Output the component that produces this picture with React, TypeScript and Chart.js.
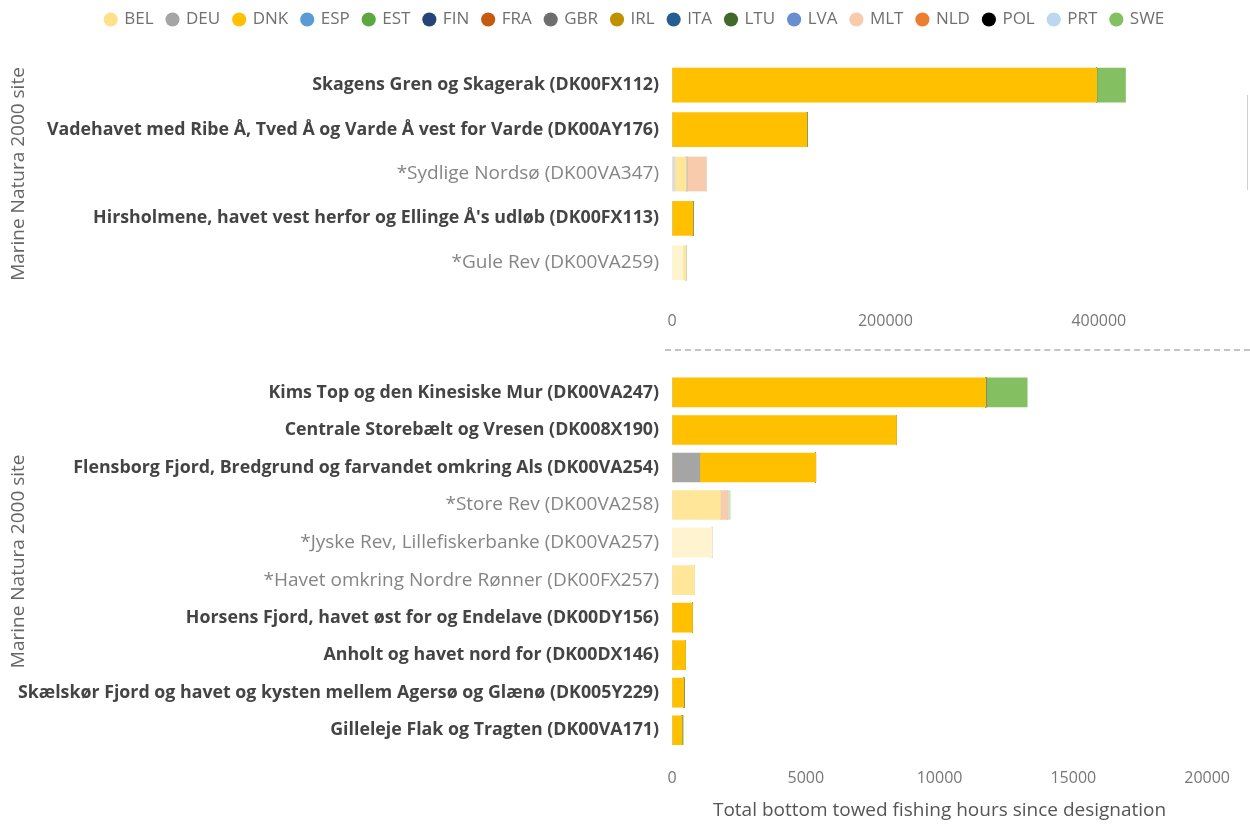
import React, { useEffect, useRef } from 'react';
import { Chart, registerables } from 'chart.js';
Chart.register(...registerables);

const FONT = "'Open Sans', 'Noto Sans', sans-serif";

const countries = ['BEL', 'DEU', 'DNK', 'ESP', 'EST', 'FIN', 'FRA', 'GBR', 'IRL', 'ITA', 'LTU', 'LVA', 'MLT', 'NLD', 'POL', 'PRT', 'SWE'];
const countryColors = ['#FFE08A', '#A5A5A5', '#FFC000', '#5B9BD5', '#5CA83E', '#264478', '#C55A11', '#6E6E6E', '#BF9000', '#255E91', '#43682B', '#698ED0', '#F8CBAD', '#ED7D31', '#000000', '#BDD7EE', '#84BF62'];

const topSites = [
  'Skagens Gren og Skagerak (DK00FX112)',
  'Vadehavet med Ribe Å, Tved Å og Varde Å vest for Varde (DK00AY176)',
  '*Sydlige Nordsø (DK00VA347)',
  "Hirsholmene, havet vest herfor og Ellinge Å's udløb (DK00FX113)",
  '*Gule Rev (DK00VA259)',
];
const topBEL = [0, 0, 0, 0, 10300];
const topDEU = [0, 0, 2800, 0, 0];
const topDNK = [398000, 126500, 10300, 19700, 2800];
const topFRA = [0, 0, 900, 0, 0];
const topNLD = [0, 0, 17800, 0, 0];
const topSWE = [27000, 0, 0, 0, 0];
const topTicks = [0, 200000, 400000];
const topMax = 507000;

const bottomSites = [
  'Kims Top og den Kinesiske Mur (DK00VA247)',
  'Centrale Storebælt og Vresen (DK008X190)',
  'Flensborg Fjord, Bredgrund og farvandet omkring Als (DK00VA254)',
  '*Store Rev (DK00VA258)',
  '*Jyske Rev, Lillefiskerbanke (DK00VA257)',
  '*Havet omkring Nordre Rønner (DK00FX257)',
  'Horsens Fjord, havet øst for og Endelave (DK00DY156)',
  'Anholt og havet nord for (DK00DX146)',
  'Skælskør Fjord og havet og kysten mellem Agersø og Glænø (DK005Y229)',
  'Gilleleje Flak og Tragten (DK00VA171)',
];
const bottomBEL = [0, 0, 0, 0, 1500, 0, 0, 0, 0, 0];
const bottomDEU = [0, 0, 1040, 0, 0, 0, 0, 0, 0, 0];
const bottomDNK = [11730, 8390, 4330, 1810, 0, 840, 765, 505, 445, 380];
const bottomNLD = [0, 0, 0, 270, 0, 0, 0, 0, 0, 0];
const bottomSWE = [1545, 0, 0, 100, 0, 0, 0, 0, 0, 40];
const bottomTicks = [0, 5000, 10000, 15000, 20000];
const bottomMax = 20000;

const yTitle = 'Marine Natura 2000 site';
const xTitle = 'Total bottom towed fishing hours since designation';

function fade(hex: string, a = 0.4) {
  const n = parseInt(hex.slice(1), 16);
  const r = (n >> 16) & 255, g = (n >> 8) & 255, b = n & 255;
  const m = (c: number) => Math.round(255 - (255 - c) * a);
  return `rgb(${m(r)},${m(g)},${m(b)})`;
}

function buildDatasets(labels: string[], values: Record<string, number[]>, thickness: number) {
  return countries.map((c, i) => ({
    label: c,
    data: values[c] ?? labels.map(() => 0),
    backgroundColor: labels.map((l) => (l.startsWith('*') ? fade(countryColors[i]) : countryColors[i])),
    borderWidth: 0,
    barThickness: thickness,
  }));
}

type Cfg = {
  labels: string[];
  values: Record<string, number[]>;
  thickness: number;
  max: number;
  ticks: number[];
  showLegend: boolean;
  legendHeight: number;
  padTop: number;
  xHeight: number;
  xTickPad: number;
  showXTitle: boolean;
};

function makeChart(canvas: HTMLCanvasElement, cfg: Cfg) {
  const legendPlugin = {
    id: 'legendFix',
    afterInit(chart: any) {
      const lg = chart.legend;
      if (!lg) return;
      const fit = lg.fit;
      lg.fit = function () {
        fit.call(this);
        this.height = cfg.legendHeight;
      };
    },
    afterLayout(chart: any) {
      const lg = chart.legend;
      if (!lg || !cfg.showLegend) return;
      lg.left = 0;
      lg.right = 1270;
      lg.width = 1270;
      lg.top = -3;
      lg.bottom = lg.top + lg.height;
    },
  };
  return new Chart(canvas, {
    type: 'bar',
    data: { labels: cfg.labels, datasets: buildDatasets(cfg.labels, cfg.values, cfg.thickness) as any },
    plugins: [legendPlugin],
    options: {
      indexAxis: 'y',
      animation: false,
      responsive: false,
      maintainAspectRatio: false,
      layout: { padding: { top: cfg.padTop, right: 37, left: 0, bottom: 0 } },
      plugins: {
        tooltip: { enabled: false },
        legend: {
          display: cfg.showLegend,
          position: 'top',
          labels: {
            usePointStyle: true,
            pointStyle: 'circle',
            boxWidth: 10,
            boxHeight: 10,
            padding: 14,
            color: '#707070',
            font: { family: FONT, size: 17 },
          },
        },
      },
      scales: {
        x: {
          stacked: true,
          min: 0,
          max: cfg.max,
          grid: { display: false, drawTicks: false },
          border: { display: false },
          afterBuildTicks: (scale: any) => {
            scale.ticks = cfg.ticks.map((v) => ({ value: v }));
          },
          afterFit: (scale: any) => {
            scale.height = cfg.xHeight;
          },
          ticks: {
            padding: cfg.xTickPad,
            color: '#777777',
            maxRotation: 0,
            autoSkip: false,
            font: { family: FONT, size: 16 },
            callback: (v: any) => String(v),
          },
          title: {
            display: cfg.showXTitle,
            text: xTitle,
            color: '#555555',
            font: { family: FONT, size: 19 },
            padding: { top: 4, bottom: 3 },
          },
        },
        y: {
          stacked: true,
          grid: { display: false, drawTicks: false },
          border: { display: false },
          afterFit: (scale: any) => {
            scale.width = 672;
          },
          ticks: {
            padding: 13,
            autoSkip: false,
            color: (c: any) => (cfg.labels[c.index]?.startsWith('*') ? '#858585' : '#444444'),
            font: (c: any) => {
              const faded = cfg.labels[c.index]?.startsWith('*');
              return { family: FONT, size: faded ? 19 : 17.8, weight: faded ? 'normal' : 'bold' };
            },
          },
          title: {
            display: true,
            text: yTitle,
            color: '#666666',
            font: { family: FONT, size: 19 },
            padding: { top: 7, bottom: 7 },
          },
        },
      },
    } as any,
  });
}

export default function App() {
  const topRef = useRef<HTMLCanvasElement>(null);
  const botRef = useRef<HTMLCanvasElement>(null);

  useEffect(() => {
    const top = makeChart(topRef.current!, {
      labels: topSites,
      values: { BEL: topBEL, DEU: topDEU, DNK: topDNK, FRA: topFRA, NLD: topNLD, SWE: topSWE },
      thickness: 34,
      max: topMax,
      ticks: topTicks,
      showLegend: true,
      legendHeight: 63,
      padTop: 0,
      xHeight: 60,
      xTickPad: 27,
      showXTitle: false,
    });
    const bot = makeChart(botRef.current!, {
      labels: bottomSites,
      values: { BEL: bottomBEL, DEU: bottomDEU, DNK: bottomDNK, NLD: bottomNLD, SWE: bottomSWE },
      thickness: 29,
      max: bottomMax,
      ticks: bottomTicks,
      showLegend: false,
      legendHeight: 0,
      padTop: 18,
      xHeight: 76,
      xTickPad: 20,
      showXTitle: true,
    });
    return () => {
      top.destroy();
      bot.destroy();
    };
  }, []);

  return (
    <div style={{ position: 'absolute', left: 0, top: 0, width: 1250, height: 825, background: '#ffffff', overflow: 'hidden' }}>
      <canvas ref={topRef} width={1250} height={345} style={{ position: 'absolute', left: 0, top: 0 }} />
      <div style={{ position: 'absolute', left: 665, top: 349, width: 585, height: 0, borderTop: '2px dashed #c4c4c4' }} />
      <div style={{ position: 'absolute', left: 1247, top: 95, width: 1, height: 95, background: '#d0d0d0' }} />
      <canvas ref={botRef} width={1250} height={475} style={{ position: 'absolute', left: 0, top: 350 }} />
    </div>
  );
}
